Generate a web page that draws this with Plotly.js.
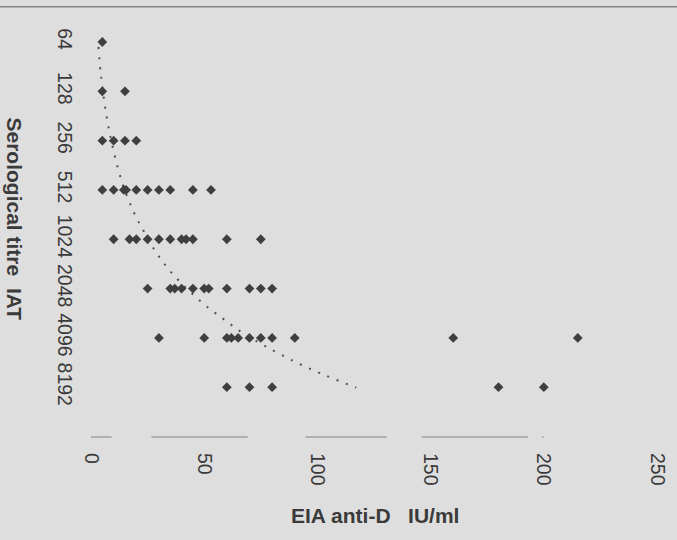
<!DOCTYPE html>
<html>
<head>
<meta charset="utf-8">
<script src="https://cdn.plot.ly/plotly-3.0.1.min.js"></script>
<style>html,body{margin:0;padding:0;background:#dedede;}</style>
</head>
<body>
<div id="chart" style="width:677px;height:540px;"></div>
<script>
// Titre categories (top to bottom)
const titreLabels = ['64','128','256','512','1024','2048','4096','8192'];
const titreIndex = [0,1,2,3,4,5,6,7];

// EIA anti-D values (IU/ml) per titre row
const eia64   = [5];
const eia128  = [5, 15];
const eia256  = [5, 10, 15, 20];
const eia512  = [5, 10, 14.5, 15.5, 20, 25, 30, 35, 45, 53];
const eia1024 = [10, 17, 20, 25, 30, 35, 40, 42, 45, 60, 75];
const eia2048 = [25, 35, 37, 40, 45, 50, 52, 60, 70, 75, 80];
const eia4096 = [30, 50, 60, 62, 65, 70, 75, 80, 90, 160, 215];
const eia8192 = [60, 70, 80, 180, 200];
const rows = [eia64, eia128, eia256, eia512, eia1024, eia2048, eia4096, eia8192];

// Dotted trend curve (x in IU/ml, y as titre row position)
const trendX = [3.3, 4.5, 7.9, 13.6, 18.9, 23.7, 29.1, 36.2, 48.7, 58.3, 67.4, 76.7, 89.9, 103.5, 117.2];
const trendY = [0.10, 0.72, 1.77, 2.83, 3.45, 3.87, 4.29, 4.71, 5.27, 5.61, 5.91, 6.16, 6.48, 6.76, 7.01];

// X axis ticks
const xTicks = [0, 50, 100, 150, 200, 250];

// Broken baseline segments (x data units)
const baseSegments = [[-2.9, 9.1], [26.7, 69.2], [94.8, 130.6], [146.1, 192.9], [199.2, 199.9]];

const px = [], py = [];
rows.forEach((r, i) => r.forEach(v => { px.push(v); py.push(titreIndex[i]); }));

const tickFont = {family: '"Liberation Sans", Arial, sans-serif', size: 19.5, color: '#3a3a3a'};
const titleFont = {family: '"Liberation Sans", Arial, sans-serif', size: 21, color: '#3a3a3a', weight: 'bold'};

const traces = [
  {x: trendX, y: trendY, mode: 'lines', type: 'scatter', hoverinfo: 'skip',
   line: {color: '#505050', width: 2, dash: '2px,8px', shape: 'spline'}},
  {x: px, y: py, mode: 'markers', type: 'scatter',
   marker: {symbol: 'diamond', size: 7.5, color: '#3f3f3f'}}
];

const shapes = baseSegments.map(s => ({type: 'line', xref: 'x', yref: 'paper', x0: s[0], x1: s[1], y0: 0, y1: 0,
  line: {color: '#a0a0a0', width: 1.5}}));
shapes.push({type: 'line', xref: 'paper', yref: 'paper', x0: -0.17, x1: 1.05, y0: 0.998, y1: 0.998,
  line: {color: '#858585', width: 1.5}});

const layout = {
  width: 677, height: 540,
  paper_bgcolor: '#dedede', plot_bgcolor: '#dedede',
  margin: {l: 91, r: 20, t: 6, b: 103},
  showlegend: false,
  xaxis: {range: [0, 250], tickvals: xTicks, ticktext: xTicks.map(String), tickangle: 90,
    tickfont: tickFont, showgrid: false, zeroline: false, showline: false, ticks: '',
    ticklabelstandoff: 15},
  yaxis: {range: [8.01, -0.73], tickvals: titreIndex, ticktext: titreLabels, tickangle: 90,
    tickfont: tickFont, showgrid: false, zeroline: false, showline: false, ticks: '',
    ticklabelstandoff: 12},
  shapes: shapes,
  annotations: [
    {text: 'EIA anti-D\u00a0\u00a0\u00a0IU/ml', xref: 'paper', yref: 'paper', x: 0.502, y: -0.181,
     xanchor: 'center', yanchor: 'middle', showarrow: false, font: titleFont},
    {text: 'Serological titre\u00a0\u00a0IAT', xref: 'paper', yref: 'paper', x: -0.1334, y: 0.5058,
     xanchor: 'center', yanchor: 'middle', showarrow: false, textangle: 90, font: titleFont}
  ]
};

Plotly.newPlot('chart', traces, layout, {displayModeBar: false, staticPlot: true});
</script>
</body>
</html>
